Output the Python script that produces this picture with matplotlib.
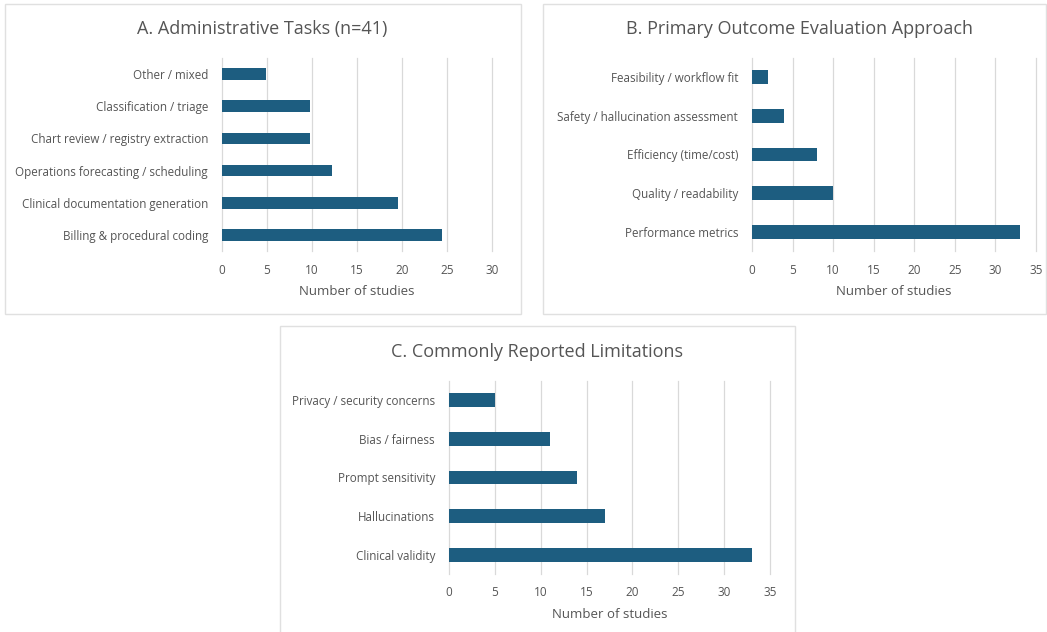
import matplotlib
matplotlib.use("Agg")
import matplotlib.pyplot as plt
from matplotlib.patches import Rectangle

# data (top to bottom as shown)
tasks = ["Other / mixed", "Classification / triage", "Chart review / registry extraction",
         "Operations forecasting / scheduling", "Clinical documentation generation",
         "Billing & procedural coding"]
tasks_vals = [4.9, 9.8, 9.8, 12.2, 19.5, 24.4]

outcomes = ["Feasibility / workflow fit", "Safety / hallucination assessment",
            "Efficiency (time/cost)", "Quality / readability", "Performance metrics"]
outcomes_vals = [2, 4, 8, 10, 33]

limits = ["Privacy / security concerns", "Bias / fairness", "Prompt sensitivity",
          "Hallucinations", "Clinical validity"]
limits_vals = [5, 11, 14, 17, 33]

bar_color = "#1d5d80"
text_color = "#555555"
grid_color = "#d9d9d9"

plt.rcParams['font.family'] = ['Open Sans', 'DejaVu Sans']

W, H = 1047, 632
fig = plt.figure(figsize=(W / 100, H / 100), dpi=100)
fig.patch.set_facecolor("white")


def px_rect(x0, y0, x1, y1):
    # pixel box (from top-left) to figure fraction rect
    return [x0 / W, 1 - y1 / H, (x1 - x0) / W, (y1 - y0) / H]


def panel_border(x0, y0, x1, y1):
    r = Rectangle((x0 / W, 1 - y1 / H), (x1 - x0) / W, (y1 - y0) / H,
                  transform=fig.transFigure, fill=False, edgecolor="#e0e0e0", lw=1.0)
    fig.add_artist(r)


def draw_panel(box, labels, vals, xmax, title, title_xy):
    ax = fig.add_axes(px_rect(*box))
    ypos = list(range(len(labels)))
    ax.barh(ypos, vals, height=0.36, color=bar_color, zorder=3)
    ax.set_yticks(ypos)
    ax.set_yticklabels(labels, fontsize=8.4, color=text_color)
    ax.set_ylim(len(labels) - 0.5, -0.5)
    ax.set_xlim(0, xmax)
    ax.set_xticks(range(0, xmax + 1, 5))
    ax.tick_params(axis='x', labelsize=8.5, colors=text_color, length=0, pad=9)
    ax.tick_params(axis='y', length=0, pad=10)
    for t in range(0, xmax + 1, 5):
        ax.axvline(t, color=grid_color, lw=0.9, zorder=0, clip_on=False)
    for s in ax.spines.values():
        s.set_visible(False)
    ax.set_xlabel("Number of studies", fontsize=9.5, color=text_color, labelpad=6)
    fig.text(title_xy[0] / W, 1 - title_xy[1] / H, title, fontsize=13, color=text_color,
             ha='center', va='center')
    return ax


panel_border(5, 4, 521, 314)
panel_border(543, 4, 1046, 314)
panel_border(280, 326, 795, 640)

draw_panel((222, 58, 492, 251), tasks, tasks_vals, 30,
           "A. Administrative Tasks (n=41)", (262, 29))
draw_panel((752, 58, 1036, 251), outcomes, outcomes_vals, 35,
           "B. Primary Outcome Evaluation Approach", (800, 29))
draw_panel((449, 381, 770, 574), limits, limits_vals, 35,
           "C. Commonly Reported Limitations", (537, 352))

fig.savefig("out.png", dpi=100, facecolor="white")
